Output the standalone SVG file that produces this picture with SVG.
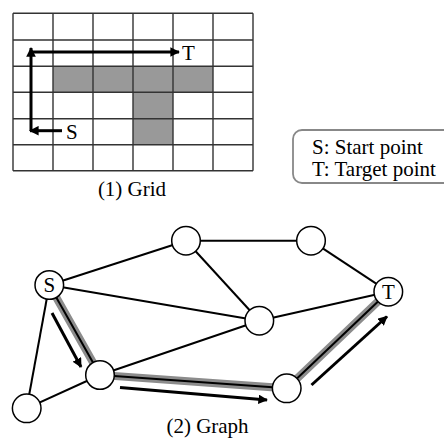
<svg xmlns="http://www.w3.org/2000/svg" width="444" height="439" viewBox="0 0 444 439">
<defs>
<marker id="ah" viewBox="0 0 10 10" refX="9" refY="5" markerWidth="3.2" markerHeight="3.2" orient="auto" markerUnits="strokeWidth">
<path d="M0,0 L10,5 L0,10 z" fill="#000"/>
</marker>
<style>
.t{font-family:'Liberation Serif','Times New Roman',serif;font-size:21px;fill:#000}
.grid{stroke:#333;stroke-width:1.4;fill:none}
.arr{stroke:#000;stroke-width:3;fill:none;marker-end:url(#ah)}
.edge{stroke:#000;stroke-width:2;fill:none}
.hl{stroke:#8c8c8c;stroke-width:8;fill:none;stroke-linecap:round}
.node{fill:#fff;stroke:#000;stroke-width:1.5}
</style>
</defs>
<rect width="444" height="439" fill="#fff"/>
<g id="grid">
<rect x="53" y="66" width="160" height="26.3" fill="#999"/>
<rect x="133" y="92.3" width="40" height="52.4" fill="#999"/>
<path class="grid" d="M13,13.3H253M13,40H253M13,66.3H253M13,92.3H253M13,118.7H253M13,144.7H253M13,170.7H253M13,13.3V170.7M53,13.3V170.7M93,13.3V170.7M133,13.3V170.7M173,13.3V170.7M213,13.3V170.7M253,13.3V170.7"/>
</g>
<g id="grid-arrows">
<line class="arr" x1="62" y1="130.7" x2="30" y2="130.7"/>
<line class="arr" x1="31" y1="131" x2="31" y2="48"/>
<line class="arr" x1="30" y1="52" x2="179" y2="52"/>
<text class="t" x="182" y="60">T</text>
<text class="t" x="66" y="139">S</text>
<text class="t" x="132" y="196" text-anchor="middle">(1) Grid</text>
</g>
<g id="legend">
<rect x="293" y="130" width="160" height="53" rx="9" fill="#fff" stroke="#888" stroke-width="1.8"/>
<text class="t" x="312" y="154">S: Start point</text>
<text class="t" x="312" y="176">T: Target point</text>
</g>
<g id="connectors">
<path class="hl" d="M49.3,285 L100,375 L286.7,388.3 L388.3,291.7"/>
<line class="edge" x1="49.3" y1="285" x2="186" y2="240.7"/>
<line class="edge" x1="49.3" y1="285" x2="259.3" y2="320.7"/>
<line class="edge" x1="49.3" y1="285" x2="100" y2="375"/>
<line class="edge" x1="49.3" y1="285" x2="26.7" y2="408.3"/>
<line class="edge" x1="186" y1="240.7" x2="311" y2="240.7"/>
<line class="edge" x1="186" y1="240.7" x2="259.3" y2="320.7"/>
<line class="edge" x1="311" y1="240.7" x2="388.3" y2="291.7"/>
<line class="edge" x1="259.3" y1="320.7" x2="388.3" y2="291.7"/>
<line class="edge" x1="259.3" y1="320.7" x2="100" y2="375"/>
<line class="edge" x1="100" y1="375" x2="26.7" y2="408.3"/>
<line class="edge" x1="100" y1="375" x2="286.7" y2="388.3"/>
<line class="edge" x1="286.7" y1="388.3" x2="388.3" y2="291.7"/>
<line class="arr" x1="52" y1="313" x2="81" y2="367"/>
<line class="arr" x1="120" y1="387.5" x2="267" y2="400"/>
<line class="arr" x1="311.5" y1="385" x2="387" y2="316.5"/>
</g>
<g id="node-S"><circle class="node" cx="49.3" cy="285" r="14.3"/><text class="t" x="49.3" y="292" text-anchor="middle">S</text></g>
<g id="node-A"><circle class="node" cx="186" cy="240.7" r="14.3"/></g>
<g id="node-B"><circle class="node" cx="311" cy="240.7" r="14.3"/></g>
<g id="node-T"><circle class="node" cx="388.3" cy="291.7" r="14.3"/><text class="t" x="388.3" y="299" text-anchor="middle">T</text></g>
<g id="node-C"><circle class="node" cx="259.3" cy="320.7" r="14.3"/></g>
<g id="node-D"><circle class="node" cx="100" cy="375" r="14.3"/></g>
<g id="node-E"><circle class="node" cx="286.7" cy="388.3" r="14.3"/></g>
<g id="node-F"><circle class="node" cx="26.7" cy="408.3" r="14.3"/></g>
<text class="t" x="207.5" y="433" text-anchor="middle">(2) Graph</text>
</svg>
